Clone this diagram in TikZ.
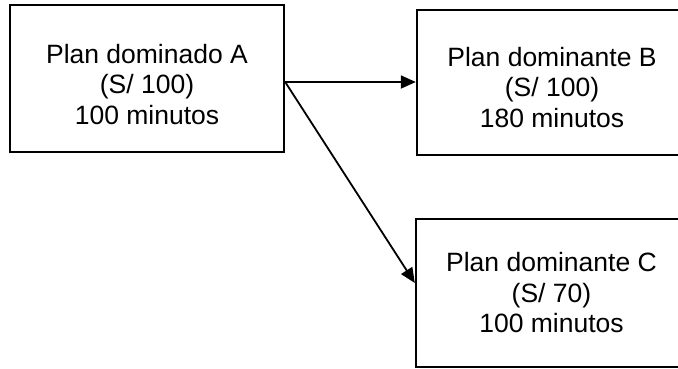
\documentclass[tikz,border=0pt]{standalone}
\usepackage{fontspec}
\setmainfont{Liberation Sans}
\usetikzlibrary{arrows.meta}
\newcommand{\planlines}[2]{\raisebox{#1}[\height][\depth]{\begin{tabular}{@{}c@{}}#2\end{tabular}}}
\begin{document}
\begin{tikzpicture}[x=1pt,y=1pt,
  planbox/.style={draw=black, line width=2.4pt, rectangle, inner sep=0pt,
    align=center, font=\fontsize{26.5}{30.5}\selectfont},
  conn/.style={line width=1.8pt, -{Triangle[length=15pt,width=13pt]}}]
\useasboundingbox (0,0) rectangle (678,-368);
\clip (0,0) rectangle (678,-368);
\node[planbox, minimum width=274pt, minimum height=147pt] (A) at (147,-78.5)
  {\planlines{-9pt}{Plan dominado A\\(S/ 100)\\100 minutos}};
\node[planbox, minimum width=270pt, minimum height=145pt] (B) at (552,-82.5)
  {\planlines{-8pt}{Plan dominante B\\(S/ 100)\\180 minutos}};
\node[planbox, minimum width=271pt, minimum height=148pt] (C) at (551.5,-293)
  {\planlines{-3pt}{Plan dominante C\\(S/ 70)\\100 minutos}};
\coordinate (o) at ([yshift=-3.5pt]A.east);
\coordinate (cin) at ([yshift=10pt]C.west);
\draw[conn] (o) -- (o -| B.west);
\draw[conn] (o) -- (cin);
\end{tikzpicture}
\end{document}
